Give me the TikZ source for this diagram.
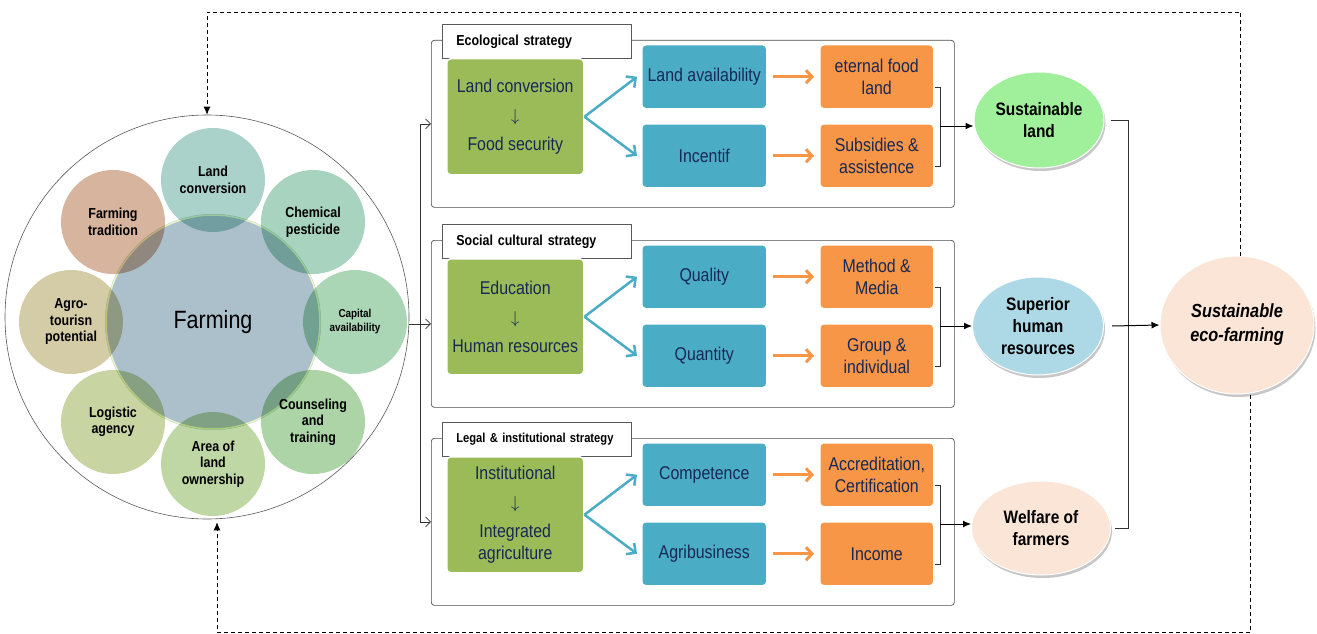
\documentclass[tikz,border=0pt]{standalone}
\usepackage{fontspec}
\setmainfont{Liberation Sans}
\newfontfamily\narrowfont{Liberation Sans}[FakeStretch=0.86]
\usetikzlibrary{arrows.meta,shapes.geometric,shadows}
\definecolor{boxgreen}{RGB}{155,187,89}
\definecolor{boxblue}{RGB}{75,172,198}
\definecolor{boxorange}{RGB}{247,150,70}
\definecolor{navy}{RGB}{24,40,84}
\definecolor{landgreen}{RGB}{160,240,155}
\definecolor{humblue}{RGB}{173,216,230}
\definecolor{peach}{RGB}{251,229,214}
\definecolor{corec}{RGB}{172,192,204}
\definecolor{ringc}{RGB}{232,244,200}
\definecolor{orbA}{RGB}{170,210,202}
\definecolor{orbB}{RGB}{168,211,190}
\definecolor{orbC}{RGB}{170,214,182}
\definecolor{orbD}{RGB}{172,212,167}
\definecolor{orbE}{RGB}{190,215,165}
\definecolor{orbF}{RGB}{200,213,162}
\definecolor{orbG}{RGB}{212,204,166}
\definecolor{orbH}{RGB}{214,180,158}
\tikzset{
  orb/.style={circle,minimum size=104pt,inner sep=0pt,align=center,draw=white,line width=1.5pt,
    font=\narrowfont\bfseries\fontsize{14.5}{16.5}\selectfont},
  panel/.style={anchor=north west,draw=gray!60!black,line width=0.7pt,rounded corners=3pt,
    minimum width=523pt,minimum height=167pt},
  ttl/.style={anchor=north west,draw=gray!70!black,fill=white,line width=0.7pt,minimum width=189pt,
    minimum height=34pt,text width=161pt,inner xsep=14pt,align=left,
    font=\narrowfont\bfseries\fontsize{14.5}{16}\selectfont},
  boxtext/.style={anchor=north west,rounded corners=4pt,draw=white,line width=1.5pt,inner sep=0pt,
    align=center,text=navy,font=\narrowfont\fontsize{18.5}{22}\selectfont},
  gbox/.style={boxtext,fill=boxgreen,minimum width=137pt,minimum height=116pt},
  bbox/.style={boxtext,fill=boxblue,minimum width=125pt,minimum height=64pt},
  obox/.style={boxtext,fill=boxorange,minimum width=114pt,minimum height=64pt},
  tarr/.style={boxblue,line width=2.5pt,-{Straight Barb[length=7pt,width=14pt]}},
  oarr/.style={boxorange,line width=3pt,-{Straight Barb[length=6pt,width=13pt]}},
  goal/.style={ellipse,inner sep=0pt,align=center,draw=white,line width=1pt,
    font=\narrowfont\bfseries\fontsize{18}{22}\selectfont,
    drop shadow={shadow xshift=1.5pt,shadow yshift=-3pt,fill=black,opacity=0.22}},
  link/.style={gray!40!black,line width=0.7pt},
  feed/.style={black,line width=1pt,-{Latex[length=8pt,width=7pt]}}
}
\begin{document}
\begin{tikzpicture}[x=1pt,y=-1pt,>={Straight Barb[length=5pt,width=10pt]}]
  \useasboundingbox (0,0) rectangle (1317,634);
  \node[circle,draw=gray!70!black,line width=0.6pt,minimum size=404pt,inner sep=0pt] (farm) at (207,317) {};
  \node[circle,fill=corec,minimum size=216pt,inner sep=0pt,
    font=\narrowfont\fontsize{25}{27}\selectfont] (core) at (213,322) {Farming};
  \draw[ringc,line width=1.5pt] (core.center) circle (107pt);
  \begin{scope}[blend mode=multiply]
    \node[orb,fill=orbA] (lconv) at (213,180) {Land\\conversion};
    \node[orb,fill=orbB] (chem) at (313,222) {Chemical\\pesticide};
    \node[orb,fill=orbC,font=\narrowfont\bfseries\fontsize{11.5}{14}\selectfont] (capit) at (355,322) {Capital\\availability};
    \node[orb,fill=orbD] (couns) at (313,422) {Counseling\\and\\training};
    \node[orb,fill=orbE] (area) at (213,464) {Area of\\land\\ownership};
    \node[orb,fill=orbF] (logis) at (113,422) {Logistic\\agency};
    \node[orb,fill=orbG] (agro) at (71,322) {Agro-\\tourisn\\potential};
    \node[orb,fill=orbH] (tradi) at (113,222) {Farming\\tradition};
  \end{scope}

  \node[goal,fill=landgreen,minimum width=130pt,minimum height=96pt] (sland) at (1039,120) {Sustainable\\land};
  \node[goal,fill=humblue,minimum width=131pt,minimum height=98pt] (shum) at (1038,326) {Superior\\human\\resources};
  \node[goal,fill=peach,minimum width=139pt,minimum height=94pt] (welf) at (1041,528) {Welfare of\\farmers};
  \node[goal,fill=peach,minimum width=154pt,minimum height=138pt,
    font=\narrowfont\bfseries\itshape\fontsize{19}{24}\selectfont] (ecof) at (1237,325) {Sustainable\\eco-farming};

  \begin{scope}[shift={(0,40)}]
    \node[panel] (ecop) at (431,0) {};
    \node[ttl] (ecot) at (442,-16) {Ecological strategy};
    \node[gbox] (ecog) at (446,18) {Land conversion\\[7pt]$\downarrow$\\[7pt]Food security};
    \node[bbox] (ecob1) at (641,4) {Land availability};
    \node[bbox] (ecob2) at (641,83) {Incentif};
    \node[obox] (ecoo1) at (819,4) {eternal food\\land};
    \node[obox] (ecoo2) at (819,83) {Subsidies \&\\assistence};
    \coordinate (ecoj) at (940,86);
    \draw[tarr] (ecog.east) -- ([xshift=-4pt]ecob1.west);
    \draw[tarr] (ecog.east) -- ([xshift=-4pt]ecob2.west);
    \draw[oarr] ([xshift=5pt]ecob1.east) -- ([xshift=-5pt]ecoo1.west);
    \draw[oarr] ([xshift=5pt]ecob2.east) -- ([xshift=-5pt]ecoo2.west);
    \draw[link] ([yshift=-11pt]ecoo1.east) -| (ecoj) |- ([yshift=-11pt]ecoo2.east);
  \end{scope}
  \begin{scope}[shift={(0,240)}]
    \node[panel] (socp) at (431,0) {};
    \node[ttl] (soct) at (442,-16) {Social cultural strategy};
    \node[gbox] (socg) at (446,18) {Education\\[7pt]$\downarrow$\\[7pt]Human resources};
    \node[bbox] (socb1) at (641,4) {Quality};
    \node[bbox] (socb2) at (641,83) {Quantity};
    \node[obox] (soco1) at (819,4) {Method \&\\Media};
    \node[obox] (soco2) at (819,83) {Group \&\\individual};
    \coordinate (socj) at (940,86);
    \draw[tarr] (socg.east) -- ([xshift=-4pt]socb1.west);
    \draw[tarr] (socg.east) -- ([xshift=-4pt]socb2.west);
    \draw[oarr] ([xshift=5pt]socb1.east) -- ([xshift=-5pt]soco1.west);
    \draw[oarr] ([xshift=5pt]socb2.east) -- ([xshift=-5pt]soco2.west);
    \draw[link] ([yshift=-11pt]soco1.east) -| (socj) |- ([yshift=-11pt]soco2.east);
  \end{scope}
  \begin{scope}[shift={(0,438)}]
    \node[panel] (legp) at (431,0) {};
    \node[ttl,font=\narrowfont\bfseries\fontsize{13}{15}\selectfont] (legt) at (442,-16) {Legal \& institutional strategy};
    \node[gbox] (legg) at (446,18) {Institutional\\[7pt]$\downarrow$\\[7pt]Integrated\\agriculture};
    \node[bbox] (legb1) at (641,4) {Competence};
    \node[bbox] (legb2) at (641,83) {Agribusiness};
    \node[obox] (lego1) at (819,4) {Accreditation,\\Certification};
    \node[obox] (lego2) at (819,83) {Income};
    \coordinate (legj) at (940,86);
    \draw[tarr] (legg.east) -- ([xshift=-4pt]legb1.west);
    \draw[tarr] (legg.east) -- ([xshift=-4pt]legb2.west);
    \draw[oarr] ([xshift=5pt]legb1.east) -- ([xshift=-5pt]lego1.west);
    \draw[oarr] ([xshift=5pt]legb2.east) -- ([xshift=-5pt]lego2.west);
    \draw[link] ([yshift=-11pt]lego1.east) -| (legj) |- ([yshift=-11pt]lego2.east);
  \end{scope}

  \draw[feed] (ecoj) -- (ecoj -| sland.west);
  \draw[feed] (socj) -- (socj -| shum.west);
  \draw[feed] (legj) -- (legj -| welf.west);

  \coordinate (lj) at (420,323);
  \draw[link,->] (farm.east |- socp.west) -- (socp.west);
  \draw[link,->] (lj) |- (ecop.west);
  \draw[link,->] (lj) |- (legp.west);

  \coordinate (rj) at (1128,326);
  \draw[link] ([xshift=6pt]sland.east) -| (rj) |- ([xshift=4pt]welf.east);
  \draw[feed] ([xshift=8pt]shum.east) -- (ecof.west);

  \coordinate (tl) at (207,12);
  \coordinate (bl) at (217,632);
  \draw[feed,line width=0.8pt,dash pattern=on 4pt off 3pt] ([xshift=3pt]ecof.north) |- (tl) -- (farm.north);
  \draw[feed,line width=0.8pt,dash pattern=on 4pt off 3pt] ([xshift=13pt]ecof.south) |- (bl) -- ([xshift=10pt,yshift=-3pt]farm.south);
\end{tikzpicture}
\end{document}
